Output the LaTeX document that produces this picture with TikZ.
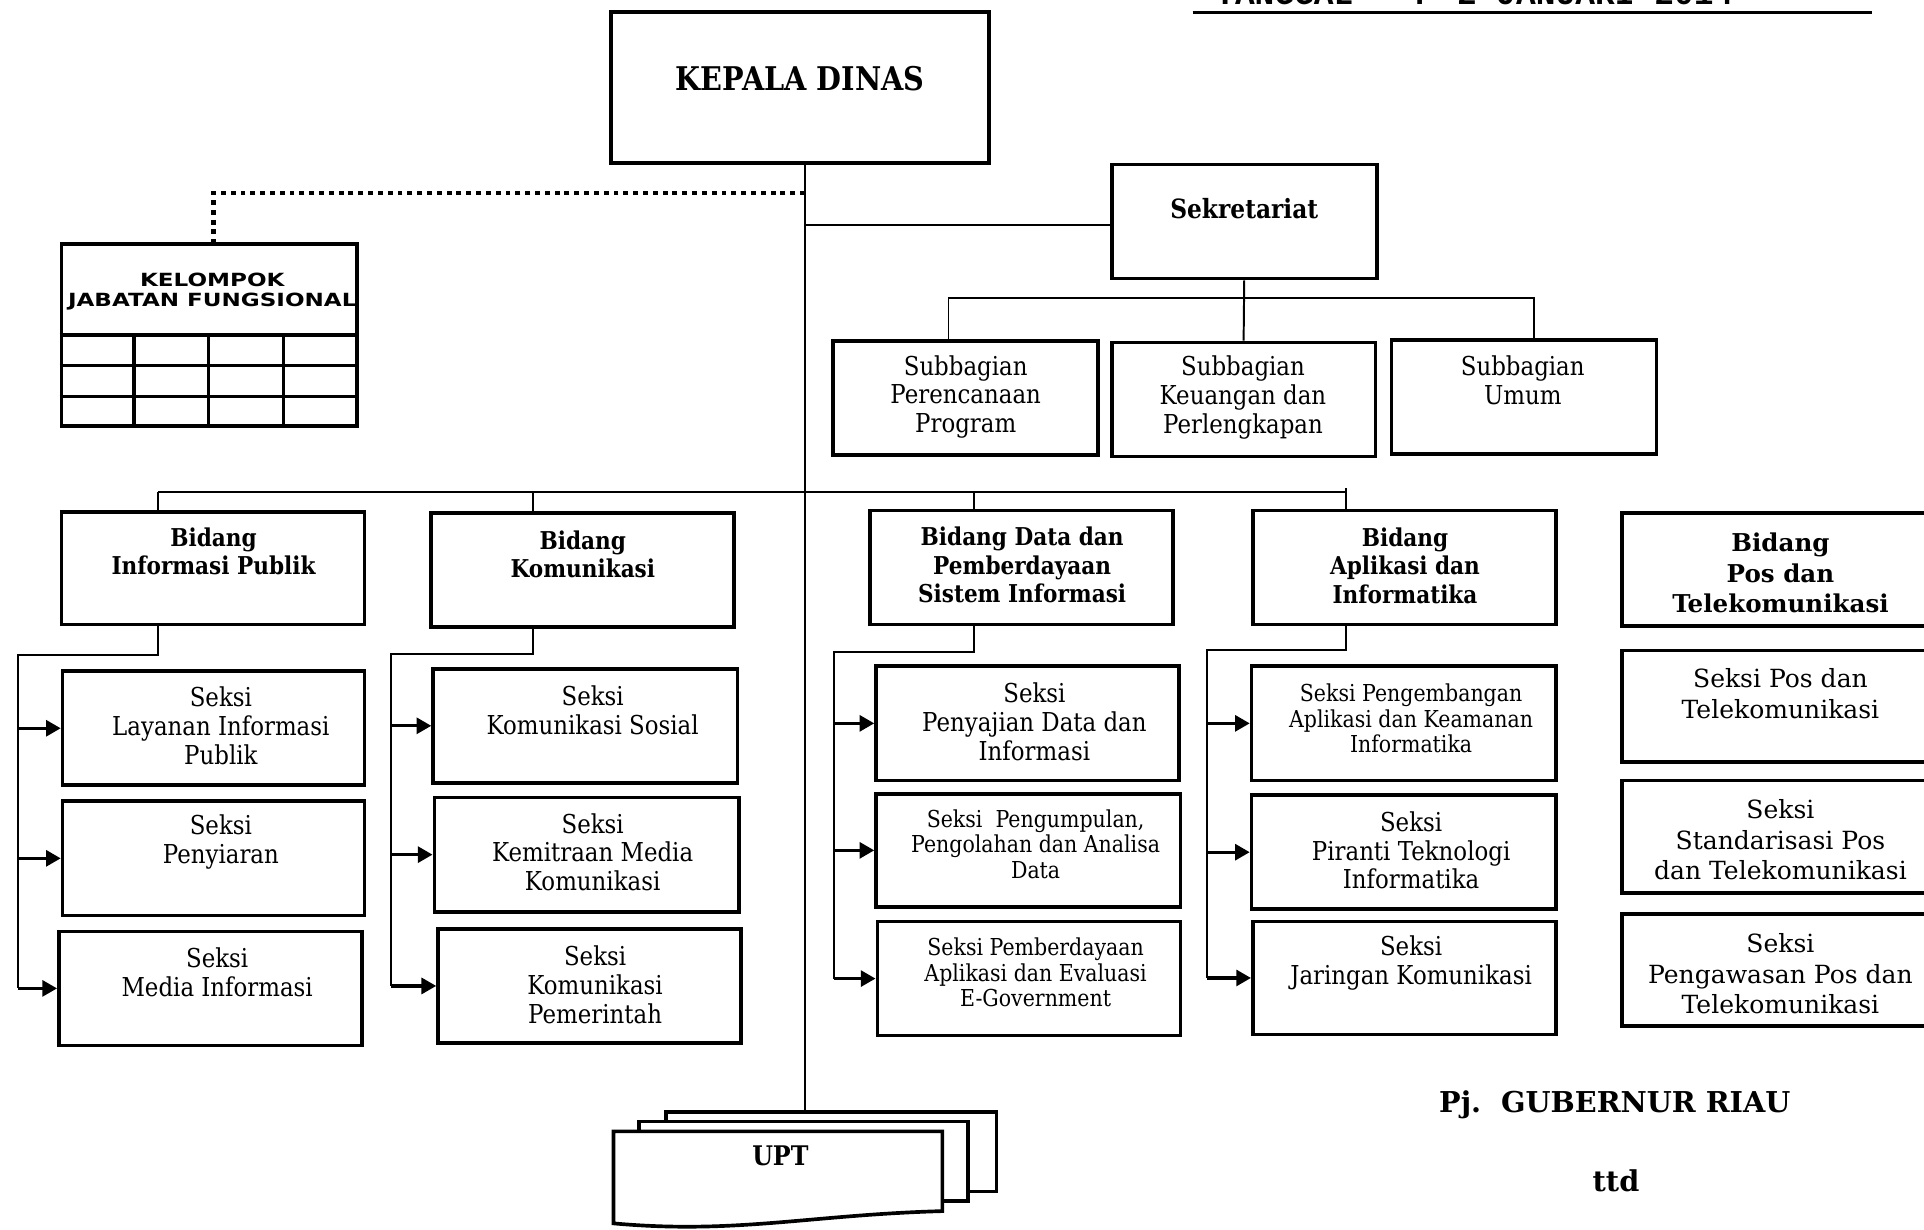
\documentclass[tikz,border=0pt]{standalone}
\usepackage{fontspec}
\usetikzlibrary{arrows.meta,fit,calc}
\newfontfamily\fontSR[FakeStretch=0.88]{DejaVu Serif}
\newfontfamily\fontPR{DejaVu Serif}
\newfontfamily\fontKS[FakeStretch=1.27]{DejaVu Sans}
\newfontfamily\fontMN{Liberation Mono}
\tikzset{
  box/.style={draw, line width=1.5pt, inner sep=0pt, fill=white},
  conn/.style={line width=0.8pt},
  arr/.style={line width=1.3pt, -{Triangle[length=6pt,width=6.5pt]}},
  dotl/.style={line width=1.7pt, dash pattern=on 2pt off 2pt},
  lbl/.style={align=center, inner sep=0pt},
  seksi/.style={lbl, font=\fontSR\fontsize{10.6}{11.75}\selectfont},
  smalltxt/.style={lbl, font=\fontSR\fontsize{9.5}{10.25}\selectfont},
  postxt/.style={lbl, font=\fontPR\fontsize{10.2}{12.5}\selectfont},
  bidtxt/.style={lbl, font=\fontSR\bfseries\fontsize{10}{11.5}\selectfont},
  posbtxt/.style={lbl, font=\fontPR\bfseries\fontsize{10}{12.5}\selectfont},
  datetxt/.style={inner sep=0pt, font=\fontMN\bfseries\fontsize{13.4}{14}\selectfont}
}
\begin{document}
\begin{tikzpicture}[x=0.5pt,y=-0.5pt]
\fill[white] (0,0) rectangle (1568,1002);
\useasboundingbox (0,0) rectangle (1568,1002);
\clip (0,0) rectangle (1568,1002);

% header date (cut off at the top edge, as in the reference)
\node[datetxt, anchor=base west] (tgl) at (990,4) {TANGGAL};
\node[datetxt, anchor=base] (tglc) at (1157,4) {:};
\node[datetxt, anchor=base west] (tgld) at (1187,4) {2 JANUARI 2014};
\draw[line width=1.4pt] (972,10) -- (1526,10);

% coordinates
\coordinate (trunk) at (656,0);

% Kepala dinas
\node[box, fit={(498,10) (806,133)}] (kd) {};
\node[lbl, font=\fontSR\bfseries\fontsize{13.3}{14}\selectfont] (kdt) at (652,64) {KEPALA DINAS};

% Sekretariat
\node[box, fit={(906,134) (1122,227)}] (sek) {};
\node[lbl, font=\fontSR\bfseries\fontsize{10.8}{12}\selectfont] (sekt) at (1014,170) {Sekretariat};

% Subbagian
\node[box, fit={(679,278) (895,371)}] (sb1) {};
\node[box, fit={(906,279) (1121,372)}] (sb2) {};
\node[box, fit={(1134,277) (1350,370)}] (sb3) {};
\node[seksi] (sb1t) at (787,323.5) {Subbagian\\Perencanaan\\Program};
\node[seksi] (sb2t) at (1013,324) {Subbagian\\Keuangan dan\\Perlengkapan};
\node[seksi] (sb3t) at (1241,310) {Subbagian\\Umum};

% Kelompok jabatan fungsional
\node[box, fit={(50,199) (291,347)}] (kel) {};
\node[lbl, font=\fontKS\bfseries\fontsize{7.4}{8}\selectfont] (kelt) at (173,237.5) {KELOMPOK\\JABATAN FUNGSIONAL};
\draw[line width=1.8pt] (kel.west |- 0,273) -- (kel.east |- 0,273);
\draw[line width=1.3pt] (kel.west |- 0,298) -- (kel.east |- 0,298);
\draw[line width=1.3pt] (kel.west |- 0,323) -- (kel.east |- 0,323);
\foreach \x in {109,170,231} \draw[line width=1.5pt] (\x,273) -- (\x,347);

% Bidang
\node[box, fit={(50,417) (297,509)}] (b1) {};
\node[box, fit={(351,418) (598,511)}] (b2) {};
\node[box, fit={(709,416) (956,509)}] (b3) {};
\node[box, fit={(1021,416) (1268,509)}] (b4) {};
\node[box, fit={(1322,418) (1580,510)}] (b5) {};
\node[bidtxt] (b1t) at (174,449.5) {Bidang\\Informasi Publik};
\node[bidtxt] (b2t) at (475,451.5) {Bidang\\Komunikasi};
\node[bidtxt] (b3t) at (833,460.5) {Bidang Data dan\\Pemberdayaan\\Sistem Informasi};
\node[bidtxt] (b4t) at (1145,461) {Bidang\\Aplikasi dan\\Informatika};
\node[posbtxt] (b5t) at (1451,467) {Bidang\\Pos dan\\Telekomunikasi};

% Seksi column 1
\node[box, fit={(51,547) (297,640)}] (s11) {};
\node[box, fit={(51,653) (297,746)}] (s12) {};
\node[box, fit={(48,759) (295,852)}] (s13) {};
\node[seksi] (s11t) at (180,591.5) {Seksi\\Layanan Informasi\\Publik};
\node[seksi] (s12t) at (180,686.5) {Seksi\\Penyiaran};
\node[seksi] (s13t) at (177,792.5) {Seksi\\Media Informasi};
% column 2
\node[box, fit={(353,545) (601,638)}] (s21) {};
\node[box, fit={(354,650) (602,743)}] (s22) {};
\node[box, fit={(357,757) (604,850)}] (s23) {};
\node[seksi] (s21t) at (483,579) {Seksi\\Komunikasi Sosial};
\node[seksi] (s22t) at (483,694.5) {Seksi\\Kemitraan Media\\Komunikasi};
\node[seksi] (s23t) at (485,802.5) {Seksi\\Komunikasi\\Pemerintah};
% column 3
\node[box, fit={(714,543) (961,636)}] (s31) {};
\node[box, fit={(714,647) (962,739)}] (s32) {};
\node[box, fit={(715,751) (962,844)}] (s33) {};
\node[seksi] (s31t) at (843,588) {Seksi\\Penyajian Data dan\\Informasi};
\node[smalltxt] (s32t) at (844,688) {Seksi\ \ Pengumpulan,\\Pengolahan dan Analisa\\Data};
\node[smalltxt] (s33t) at (844,792.5) {Seksi Pemberdayaan\\Aplikasi dan Evaluasi\\E-Government};
% column 4
\node[box, fit={(1020,543) (1268,636)}] (s41) {};
\node[box, fit={(1020,648) (1268,741)}] (s42) {};
\node[box, fit={(1021,751) (1268,843)}] (s43) {};
\node[smalltxt] (s41t) at (1150,585.5) {Seksi Pengembangan\\Aplikasi dan Keamanan\\Informatika};
\node[seksi] (s42t) at (1150,693) {Seksi\\Piranti Teknologi\\Informatika};
\node[seksi] (s43t) at (1150,784.5) {Seksi\\Jaringan Komunikasi};
% column 5
\node[box, fit={(1322,530) (1580,621)}] (s51) {};
\node[box, fit={(1322,636) (1580,728)}] (s52) {};
\node[box, fit={(1322,745) (1580,836)}] (s53) {};
\node[postxt] (s51t) at (1451,565.5) {Seksi Pos dan\\Telekomunikasi};
\node[postxt] (s52t) at (1451,684.5) {Seksi\\Standarisasi Pos\\dan Telekomunikasi};
\node[postxt] (s53t) at (1451,793.5) {Seksi\\Pengawasan Pos dan\\Telekomunikasi};

% UPT stack
\node[box, fit={(543,906) (812,971)}] (upt3) {};
\node[box, fit={(521,914) (789,979)}] (upt2) {};
\draw[line width=1.5pt, fill=white] (500,922) -- (768,922) -- (768,987)
  .. controls (660,990) and (600,1006) .. (500,997) -- cycle;
\node[lbl, font=\fontSR\bfseries\fontsize{11}{12}\selectfont] (uptt) at (636,942) {UPT};

% trunk
\draw[conn] (kd.south -| trunk) -- (upt3.north -| trunk);
% dotted to kelompok
\draw[dotl] (trunk |- 0,157) -| ($(kel.north)+(3.5,0)$);
% to sekretariat
\draw[conn] ($(sek.west)+(0,2.5)$) -- ($(sek.west -| trunk)+(0,2.5)$);
% subbagian tree
\coordinate (sbus) at (0,243);
\draw[conn] (sek.south) -- (sb2.north);
\draw[conn] ($(sb1.north)+(-14,0)$) |- (sek.south |- sbus) -| ($(sb3.north)+(8,0)$);

% bidang bus
\coordinate (bus) at (0,401);
\coordinate (d1) at ($(b1.north)+(-44.5,0)$);
\coordinate (d2) at ($(b2.north)+(-40.5,0)$);
\coordinate (d3) at ($(b3.north)+(-38.5,0)$);
\coordinate (d4) at ($(b4.north)+(-47.5,0)$);
\draw[conn] (d1 |- bus) -- (d4 |- bus);
\foreach \d in {d1,d2,d3,d4} \draw[conn] (\d |- bus) -- (\d);
\draw[conn] ($(d4 |- bus)+(0,-3)$) -- (d4 |- bus);

% column connectors
\coordinate (e1) at ($(b1.south)+(-44.5,0)$);
\coordinate (e2) at ($(b2.south)+(-40.5,0)$);
\coordinate (e3) at ($(b3.south)+(-38.5,0)$);
\coordinate (e4) at ($(b4.south)+(-47.5,0)$);
\coordinate (v1) at (15,534);
\coordinate (v2) at (319,533);
\coordinate (v3) at (680,531);
\coordinate (v4) at (984,530);
\draw[conn] (e1) |- (v1) -- (v1 |- s13.west);
\draw[conn] (e2) |- (v2) -- (v2 |- s23.west);
\draw[conn] (e3) |- (v3) -- (v3 |- s33.west);
\draw[conn] (e4) |- (v4) -- (v4 |- s43.west);
\foreach \c/\s in {v1/s11,v1/s12,v1/s13,v2/s21,v2/s22,v2/s23,v3/s31,v3/s32,v3/s33,v4/s41,v4/s42,v4/s43}
  \draw[arr] (\c |- \s.west) -- (\s.west);

% signature
\node[lbl, font=\fontPR\bfseries\fontsize{11.7}{13}\selectfont] (pj) at (1316,900) {Pj.\ \ GUBERNUR RIAU};
\node[lbl, font=\fontPR\bfseries\fontsize{11.7}{13}\selectfont] (ttd) at (1317,962) {ttd};
\end{tikzpicture}
\end{document}
